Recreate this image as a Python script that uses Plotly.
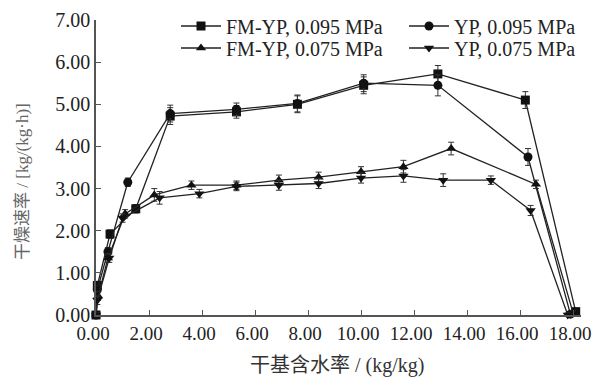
import plotly.graph_objects as go

# FM-YP, 0.095 MPa (squares)
x_fm095 = [0, 0.05, 0.53, 1.5, 2.8, 5.3, 7.6, 10.1, 12.9, 16.2, 18.1]
y_fm095 = [0, 0.7, 1.92, 2.52, 4.72, 4.82, 5.0, 5.45, 5.72, 5.1, 0.08]
e_fm095 = [0.05, 0.1, 0.1, 0.1, 0.2, 0.15, 0.2, 0.2, 0.2, 0.2, 0.05]

# YP, 0.095 MPa (circles)
x_yp095 = [0, 0.05, 0.45, 1.2, 2.8, 5.3, 7.6, 10.1, 12.9, 16.3, 17.9]
y_yp095 = [0, 0.6, 1.5, 3.15, 4.78, 4.88, 5.02, 5.5, 5.45, 3.75, 0.02]
e_yp095 = [0.05, 0.1, 0.1, 0.1, 0.2, 0.15, 0.2, 0.2, 0.25, 0.2, 0.05]

# FM-YP, 0.075 MPa (triangle up)
x_fm075 = [0, 0.08, 0.45, 1.1, 2.2, 3.6, 5.3, 6.9, 8.4, 10.0, 11.6, 13.4, 16.6, 18.0]
y_fm075 = [0, 0.45, 1.35, 2.4, 2.85, 3.08, 3.08, 3.2, 3.27, 3.4, 3.52, 3.95, 3.1, 0.05]
e_fm075 = [0.05, 0.1, 0.1, 0.1, 0.15, 0.1, 0.1, 0.12, 0.12, 0.12, 0.15, 0.15, 0.1, 0.05]

# YP, 0.075 MPa (triangle down)
x_yp075 = [0, 0.05, 0.5, 1.0, 2.4, 3.9, 5.3, 6.9, 8.4, 10.0, 11.6, 13.1, 14.9, 16.4, 17.8]
y_yp075 = [0, 0.35, 1.35, 2.3, 2.78, 2.88, 3.05, 3.08, 3.12, 3.25, 3.3, 3.2, 3.2, 2.48, 0]
e_yp075 = [0.05, 0.1, 0.1, 0.1, 0.15, 0.1, 0.1, 0.12, 0.12, 0.12, 0.15, 0.15, 0.1, 0.12, 0.05]

x_ticks = [0, 2, 4, 6, 8, 10, 12, 14, 16, 18]
y_ticks = [0, 1, 2, 3, 4, 5, 6, 7]

series = [
    ("FM-YP, 0.095 MPa", x_fm095, y_fm095, e_fm095, "square", "legend"),
    ("YP, 0.095 MPa", x_yp095, y_yp095, e_yp095, "circle", "legend2"),
    ("FM-YP, 0.075 MPa", x_fm075, y_fm075, e_fm075, "triangle-up", "legend3"),
    ("YP, 0.075 MPa", x_yp075, y_yp075, e_yp075, "triangle-down", "legend4"),
]

FONT = "Liberation Serif"
CJK = "Liberation Serif, Noto Sans CJK SC"

# plot area in pixels (for placing legend / titles)
W, H = 593, 379
L, R, T, B = 96, 12, 20, 64
PW, PH = W - L - R, H - T - B


def px_x(p):
    return (p - L) / PW


def px_y(p):
    return (H - B - p) / PH


def cy(p):
    return (H - p) / H


fig = go.Figure()
for name, xs, ys, es, sym, lg in series:
    fig.add_trace(go.Scatter(
        x=xs, y=ys, name=name, mode="lines+markers",
        line=dict(color="#222", width=1.3),
        marker=dict(symbol=sym, size=9, color="#111"),
        error_y=dict(type="data", array=es, visible=True, color="#333", thickness=1, width=3),
        cliponaxis=False, legend=lg,
    ))

leg_common = dict(yanchor="middle", xanchor="left", yref="container", bgcolor="rgba(0,0,0,0)",
                  font=dict(family=FONT, size=20, color="#222"), itemwidth=40,
                  tracegroupgap=0, borderwidth=0)
col1, col2 = px_x(176), px_x(404)
row1, row2 = cy(26), cy(48)
fig.update_layout(
    width=W, height=H,
    margin=dict(l=L, r=R, t=T, b=B, autoexpand=False),
    paper_bgcolor="white", plot_bgcolor="white",
    font=dict(family=FONT, size=18, color="#222"),
    showlegend=True,
    legend=dict(x=col1, y=row1, **leg_common),
    legend2=dict(x=col2, y=row1, **leg_common),
    legend3=dict(x=col1, y=row2, **leg_common),
    legend4=dict(x=col2, y=row2, **leg_common),
    annotations=[
        dict(text="干燥速率 / [kg/(kg·h)]", textangle=-90, showarrow=False,
             xref="paper", yref="paper", x=px_x(22), y=px_y(182),
             xanchor="center", yanchor="middle",
             font=dict(family=CJK, size=17, color="#666")),
        dict(text="干基含水率 / (kg/kg)", showarrow=False,
             xref="paper", yref="paper", x=px_x(337), y=px_y(365),
             xanchor="center", yanchor="middle",
             font=dict(family=CJK, size=20, color="#333")),
    ],
)
fig.update_xaxes(
    range=[0, 18.3], tickvals=x_ticks, ticktext=[f"{v:.2f}" for v in x_ticks],
    showline=True, linecolor="#555", linewidth=1.5, ticks="inside", ticklen=5, tickcolor="#555",
    showgrid=False, zeroline=False, ticklabeloverflow="allow", automargin=False,
    ticklabelshift=-3,
    tickfont=dict(family=FONT, size=19, color="#222"),
)
fig.update_yaxes(
    range=[0, 7], tickvals=y_ticks, ticktext=[f"{v:.2f}" for v in y_ticks],
    showline=True, linecolor="#555", linewidth=1.5, ticks="inside", ticklen=5, tickcolor="#555",
    showgrid=False, zeroline=False, automargin=False,
    tickfont=dict(family=FONT, size=20, color="#222"),
)

fig.write_html("out.html")
